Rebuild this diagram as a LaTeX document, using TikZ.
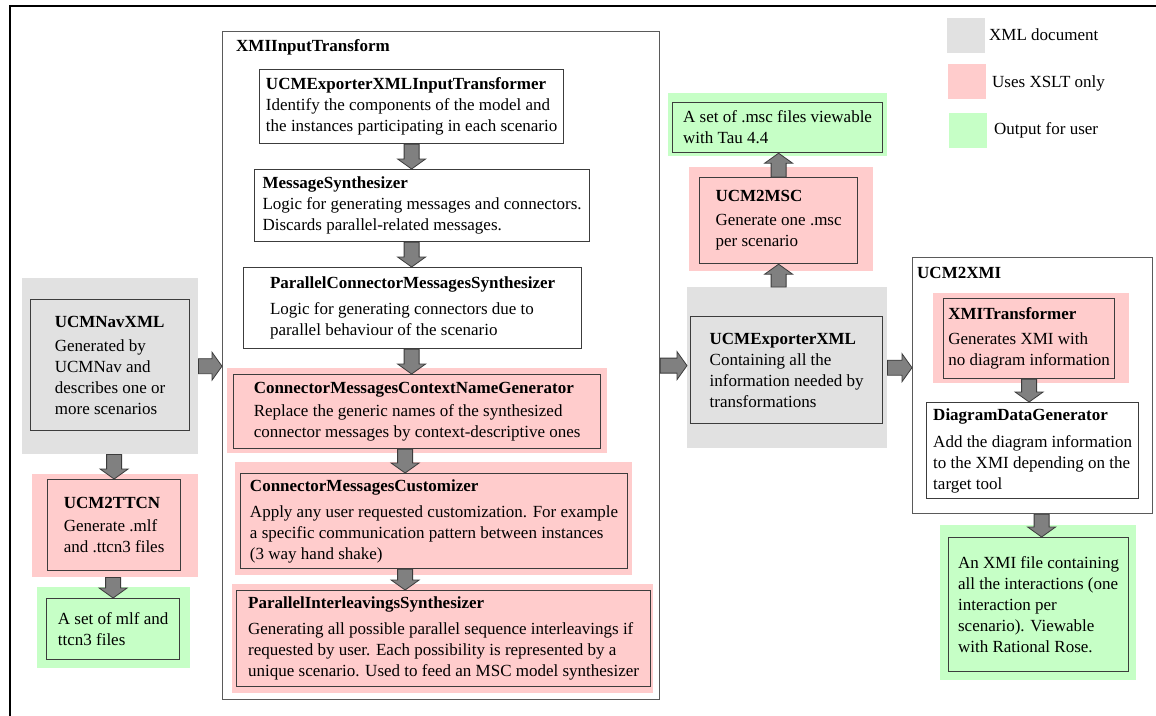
\documentclass[tikz,border=0pt]{standalone}
\usepackage{fontspec}
\setmainfont{Liberation Serif}
\usepackage{tikz}
\usetikzlibrary{calc}

\definecolor{xmlgray}{RGB}{225,225,225}
\definecolor{xsltpink}{RGB}{255,204,204}
\definecolor{outgreen}{RGB}{198,255,198}
\definecolor{edgegray}{RGB}{60,60,60}
\definecolor{groupgray}{RGB}{90,90,90}
\definecolor{arrowgray}{RGB}{128,128,128}

\tikzset{sz/.style 2 args={minimum width=#1, minimum height=#2}}

% block arrow from #1 to its tip #2
\newcommand{\fatarrow}[2]{%
  \draw[fatarrow] ($(#1)!7.5pt!90:(#2)$) -- ($(#2)!10pt!(#1)!7.5pt!90:(#2)$)
    -- ($(#2)!10pt!(#1)!14pt!90:(#2)$) -- (#2)
    -- ($(#2)!10pt!(#1)!14pt!-90:(#2)$) -- ($(#2)!10pt!(#1)!7.5pt!-90:(#2)$)
    -- ($(#1)!7.5pt!-90:(#2)$) -- cycle;}

\begin{document}
\begin{tikzpicture}[x=1pt,y=-1pt]
\tikzstyle{every node}+=[inner sep=0pt, font=\fontsize{17}{21}\selectfont]
\tikzstyle{xmlbg}=[anchor=north west, fill=xmlgray]
\tikzstyle{xsltbg}=[anchor=north west, fill=xsltpink]
\tikzstyle{outbg}=[anchor=north west, fill=outgreen]
\tikzstyle{stepbox}=[anchor=north west, draw=edgegray, line width=1.2pt, align=left]
\tikzstyle{groupbox}=[anchor=north west, draw=groupgray, line width=1.2pt, fill=white]
\tikzstyle{fatarrow}=[fill=arrowgray, draw=edgegray, line width=0.8pt]

\useasboundingbox (0,0) rectangle (1156,715);
\fill[white] (0,0) rectangle (1156,715);
\draw[line width=2.4pt] (10,716) -- (10,6) -- (1157,6);

% legend
\node[xmlbg, sz={38}{35}] (legxml) at (947,18) {};
\node[anchor=west] (legxmltext) at (989,35) {XML document};
\node[xsltbg, sz={38}{35}] (legxslt) at (948,64) {};
\node[anchor=west] (legxslttext) at (992,83) {Uses XSLT only};
\node[outbg, sz={38}{35}] (legout) at (949,113) {};
\node[anchor=west] (legouttext) at (994,130) {Output for user};

% left column
\node[xmlbg, sz={176}{176}] (navbg) at (22,278) {};
\node[stepbox, sz={159}{131}] (navxml) at (30,299) {\textbf{UCMNavXML}\\[3pt]Generated by\\UCMNav and\\describes one or\\more scenarios};
\node[xsltbg, sz={166}{103}] (ttcnbg) at (32,474) {};
\node[stepbox, sz={133}{91}] (ttcn) at (47,479) {\textbf{UCM2TTCN}\\[2pt]Generate .mlf\\and .ttcn3 files};
\node[outbg, sz={153}{81}] (mlfbg) at (37,587) {};
\node[stepbox, sz={133}{61}] (mlf) at (46,598) {A set of mlf and\\ttcn3 files};

% XMIInputTransform
\node[groupbox, sz={437}{668}] (xmi) at (222,31) {};
\node[anchor=west] (xmititle) at (236,47) {\textbf{XMIInputTransform}};
\node[stepbox, sz={304}{74}] (uxit) at (259,69) {\textbf{UCMExporterXMLInputTransformer}\\Identify the components of the model and\\the instances participating in each scenario};
\node[stepbox, sz={335}{72}] (msgs) at (254,169) {\textbf{MessageSynthesizer}\\Logic for generating messages and connectors.\\Discards parallel-related messages.};
\node[stepbox, sz={338}{81}] (pcms) at (243,267) {\textbf{ParallelConnectorMessagesSynthesizer}\\[5pt]Logic for generating connectors due to\\parallel behaviour of the scenario};
\node[xsltbg, sz={380}{85}] (cmcnbg) at (227,368) {};
\node[stepbox, sz={367}{74}] (cmcn) at (233,374) {\textbf{ConnectorMessagesContextNameGenerator}\\[2pt]Replace the generic names of the synthesized\\connector messages by context-descriptive ones};
\node[xsltbg, sz={397}{113}] (cmcubg) at (235,462) {};
\node[stepbox, sz={387}{95}] (cmcu) at (240,473) {\textbf{ConnectorMessagesCustomizer}\\[5pt]Apply any user requested customization. For example\\a specific communication pattern between instances\\(3 way hand shake)};
\node[xsltbg, sz={421}{109}] (pisbg) at (232,584) {};
\node[stepbox, sz={414}{96}] (pis) at (236,590) {\textbf{ParallelInterleavingsSynthesizer}\\[5pt]Generating all possible parallel sequence interleavings if\\requested by user. Each possibility is represented by a\\unique scenario. Used to feed an MSC model synthesizer};

% middle column
\node[outbg, sz={219}{63}] (taubg) at (668,93) {};
\node[stepbox, sz={210}{50}] (tau) at (672,102) {A set of .msc files viewable\\with Tau 4.4};
\node[xsltbg, sz={184}{104}] (mscbg) at (689,167) {};
\node[stepbox, sz={158}{86}] (msc) at (699,177) {\textbf{UCM2MSC}\\[3pt]Generate one .msc\\per scenario};
\node[xmlbg, sz={200}{161}] (uxbg) at (687,287) {};
\node[stepbox, sz={192}{107}] (ux) at (690,316) {\textbf{UCMExporterXML}\\Containing all the\\information needed by\\transformations};

% UCM2XMI
\node[groupbox, sz={240}{256}] (u2x) at (912,257) {};
\node[anchor=west] (u2xtitle) at (917,273) {\textbf{UCM2XMI}};
\node[xsltbg, sz={196}{90}] (xmitbg) at (933,293) {};
\node[stepbox, sz={171}{80}] (xmit) at (943,298) {\textbf{XMITransformer}\\[4pt]Generates XMI with\\no diagram information};
\node[stepbox, sz={212}{96}] (ddg) at (926,402) {\textbf{DiagramDataGenerator}\\[6pt]Add the diagram information\\to the XMI depending on the\\target tool};
\node[outbg, sz={196}{155}] (xmifilebg) at (940,525) {};
\node[stepbox, sz={180}{134}] (xmifile) at (948,537) {An XMI file containing\\all the interactions (one\\interaction per\\scenario). Viewable\\with Rational Rose.};

% arrows
\coordinate (a1) at (navbg.south -| ttcn.north);
\fatarrow{a1}{ttcn.north}
\coordinate (a2) at (ttcnbg.south -| mlf.north);
\fatarrow{a2}{mlf.north}
\coordinate (a3) at (navbg.east -| xmi.west);
\fatarrow{navbg.east}{a3}
\coordinate (a4) at (uxit.south |- msgs.north);
\fatarrow{uxit.south}{a4}
\coordinate (a5s) at (msgs.south -| uxit.south);
\coordinate (a5) at (uxit.south |- pcms.north);
\fatarrow{a5s}{a5}
\coordinate (a6s) at (pcms.south -| uxit.south);
\coordinate (a6) at (uxit.south |- cmcn.north);
\fatarrow{a6s}{a6}
\coordinate (a7s) at ([xshift=-12pt]cmcn.south);
\coordinate (a7) at (a7s |- cmcu.north);
\fatarrow{a7s}{a7}
\coordinate (a8s) at (cmcu.south -| a7s);
\coordinate (a8) at (a7s |- pis.north);
\fatarrow{a8s}{a8}
\coordinate (a9) at (xmi.east -| uxbg.west);
\fatarrow{xmi.east}{a9}
\coordinate (a10s) at (uxbg.north -| msc.south);
\fatarrow{a10s}{msc.south}
\coordinate (a11) at (msc.north |- tau.south);
\fatarrow{msc.north}{a11}
\coordinate (a12) at (uxbg.east -| u2x.west);
\fatarrow{uxbg.east}{a12}
\coordinate (a13) at (xmit.south |- ddg.north);
\fatarrow{xmit.south}{a13}
\coordinate (a14s) at ([xshift=3pt]u2x.south -| xmifile.north);
\fatarrow{a14s}{[xshift=3pt]xmifile.north}
\end{tikzpicture}
\end{document}
